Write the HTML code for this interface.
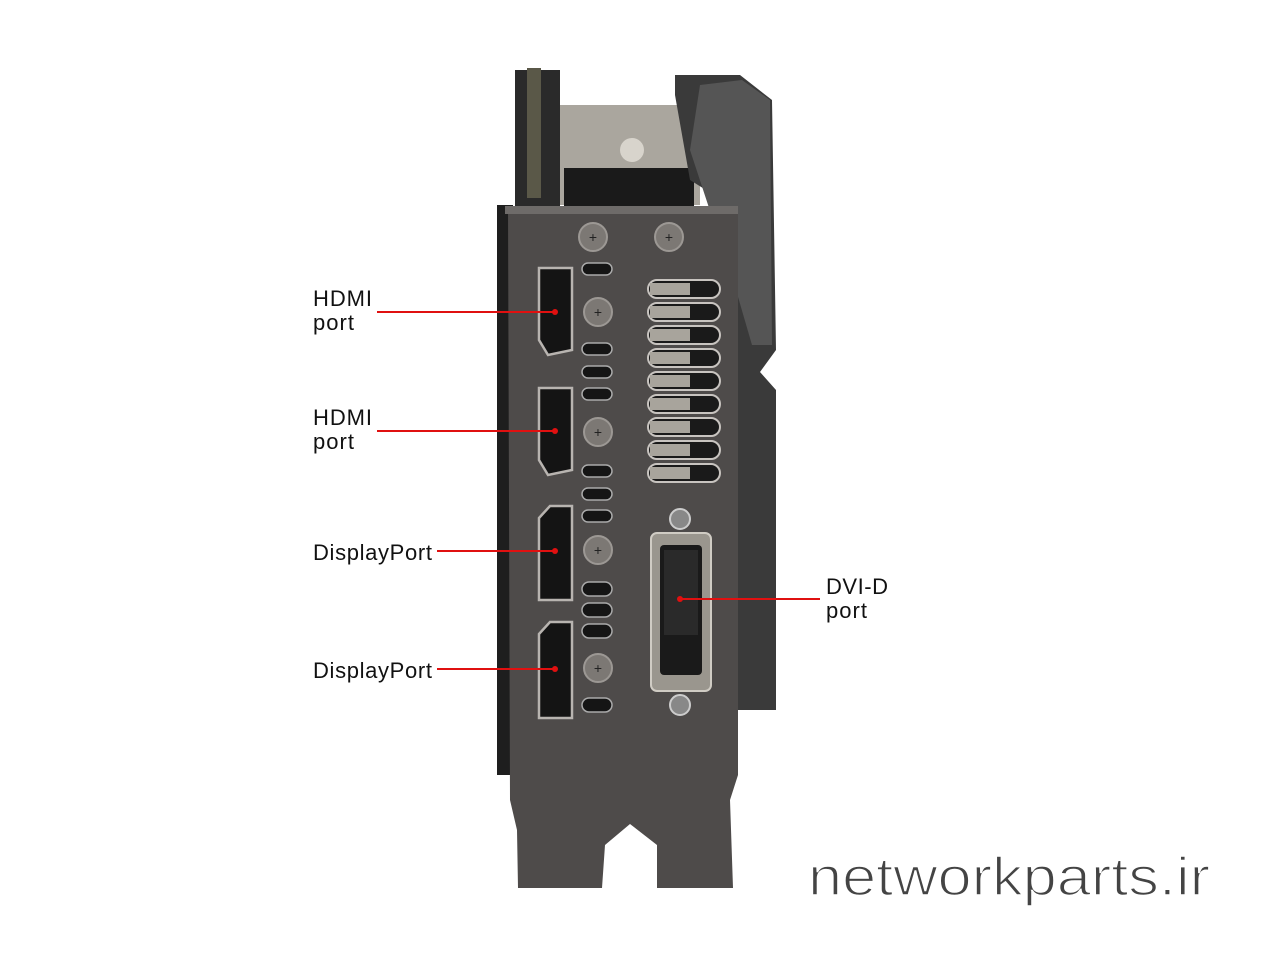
<!DOCTYPE html>
<html><head><style>body{margin:0;background:#fff}svg{display:block}</style></head>
<body>
<svg width="1280" height="960" viewBox="0 0 1280 960" xmlns="http://www.w3.org/2000/svg" font-family="Liberation Sans, sans-serif">
<rect width="1280" height="960" fill="#fff"/>
<rect x="515" y="70" width="45" height="140" fill="#2a2a2a"/>
<rect x="527" y="68" width="14" height="130" fill="#5a5848"/>
<rect x="560" y="105" width="140" height="100" fill="#aaa69e"/>
<circle cx="632" cy="150" r="12" fill="#d8d4cc"/>
<rect x="564" y="168" width="130" height="40" fill="#1a1a1a"/>
<polygon points="675,75 740,75 772,100 776,350 760,372 776,390 776,710 738,710 738,210 690,180 675,95" fill="#3a3a3a"/>
<polygon points="700,85 742,80 770,100 772,345 752,345 736,290 690,150" fill="#555"/>
<rect x="497" y="205" width="16" height="570" fill="#1e1e1e"/>
<polygon points="505,208 738,208 738,775 730,800 733,888 657,888 657,845 630,824 605,845 602,888 518,888 517,830 510,800 508,208" fill="#4e4b4a"/>
<rect x="505" y="206" width="233" height="8" fill="#6e6b69"/>
<g fill="#7c7874" stroke="#9c9894" stroke-width="2">
<circle cx="593" cy="237" r="14"/><circle cx="669" cy="237" r="14"/>
<circle cx="598" cy="312" r="14"/><circle cx="598" cy="432" r="14"/>
<circle cx="598" cy="550" r="14"/><circle cx="598" cy="668" r="14"/>
</g>
<g fill="#222" font-size="14" text-anchor="middle"><text x="593" y="242">+</text><text x="669" y="242">+</text><text x="598" y="317">+</text><text x="598" y="437">+</text><text x="598" y="555">+</text><text x="598" y="673">+</text></g>
<g fill="#151515" stroke="#aaa" stroke-width="1.5">
<rect x="582" y="263" width="30" height="12" rx="6"/>
<rect x="582" y="343" width="30" height="12" rx="6"/>
<rect x="582" y="366" width="30" height="12" rx="6"/>
<rect x="582" y="388" width="30" height="12" rx="6"/>
<rect x="582" y="465" width="30" height="12" rx="6"/>
<rect x="582" y="488" width="30" height="12" rx="6"/>
<rect x="582" y="510" width="30" height="12" rx="6"/>
<rect x="582" y="582" width="30" height="14" rx="7"/>
<rect x="582" y="603" width="30" height="14" rx="7"/>
<rect x="582" y="624" width="30" height="14" rx="7"/>
<rect x="582" y="698" width="30" height="14" rx="7"/>
</g>
<g fill="#1a1a1a" stroke="#c8c4c0" stroke-width="2">
<rect x="648" y="280" width="72" height="18" rx="9"/>
<rect x="648" y="303" width="72" height="18" rx="9"/>
<rect x="648" y="326" width="72" height="18" rx="9"/>
<rect x="648" y="349" width="72" height="18" rx="9"/>
<rect x="648" y="372" width="72" height="18" rx="9"/>
<rect x="648" y="395" width="72" height="18" rx="9"/>
<rect x="648" y="418" width="72" height="18" rx="9"/>
<rect x="648" y="441" width="72" height="18" rx="9"/>
<rect x="648" y="464" width="72" height="18" rx="9"/>
</g>
<g fill="#a8a49c"><rect x="650" y="283" width="40" height="12"/><rect x="650" y="306" width="40" height="12"/><rect x="650" y="329" width="40" height="12"/><rect x="650" y="352" width="40" height="12"/><rect x="650" y="375" width="40" height="12"/><rect x="650" y="398" width="40" height="12"/><rect x="650" y="421" width="40" height="12"/><rect x="650" y="444" width="40" height="12"/><rect x="650" y="467" width="40" height="12"/></g>
<g fill="#141414" stroke="#b8b4b0" stroke-width="2.5">
<polygon points="539,268 572,268 572,350 548,355 539,340"/>
<polygon points="539,388 572,388 572,470 548,475 539,460"/>
<polygon points="539,518 550,506 572,506 572,600 539,600"/>
<polygon points="539,634 550,622 572,622 572,718 539,718"/>
</g>
<circle cx="680" cy="519" r="10" fill="#888" stroke="#ccc" stroke-width="2"/>
<circle cx="680" cy="705" r="10" fill="#888" stroke="#ccc" stroke-width="2"/>
<rect x="651" y="533" width="60" height="158" rx="6" fill="#9a968e" stroke="#d0ccc4" stroke-width="2"/>
<rect x="660" y="545" width="42" height="130" rx="4" fill="#1a1a1a"/>
<rect x="664" y="550" width="34" height="85" fill="#2a2a2a"/>
<g stroke="#e01010" stroke-width="2">
<line x1="377" y1="312" x2="555" y2="312"/><line x1="377" y1="431" x2="555" y2="431"/>
<line x1="437" y1="551" x2="555" y2="551"/><line x1="437" y1="669" x2="555" y2="669"/>
<line x1="680" y1="599" x2="820" y2="599"/>
</g>
<g fill="#e01010"><circle cx="555" cy="312" r="3"/><circle cx="555" cy="431" r="3"/><circle cx="555" cy="551" r="3"/><circle cx="555" cy="669" r="3"/><circle cx="680" cy="599" r="3"/></g>
<g fill="#111" font-size="22" lengthAdjust="spacingAndGlyphs">
<text x="313" y="306" textLength="59">HDMI</text><text x="313" y="330" textLength="41">port</text>
<text x="313" y="425" textLength="59">HDMI</text><text x="313" y="449" textLength="41">port</text>
<text x="313" y="560" textLength="119">DisplayPort</text><text x="313" y="678" textLength="119">DisplayPort</text>
<text x="826" y="594" textLength="62">DVI-D</text><text x="826" y="618" textLength="41">port</text>
</g>
<text x="808" y="895" font-size="54" fill="#444" stroke="#fff" stroke-width="1.6" textLength="402" lengthAdjust="spacingAndGlyphs">networkparts.ir</text>
</svg>
</body></html>
